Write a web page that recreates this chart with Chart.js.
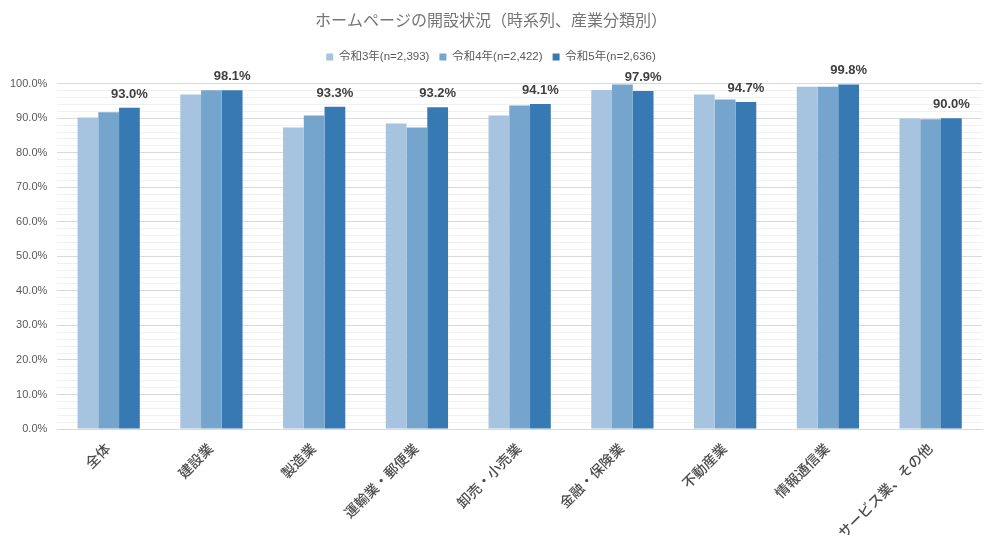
<!DOCTYPE html>
<html>
<head>
<meta charset="utf-8">
<script src="https://cdn.jsdelivr.net/npm/chart.js@4/dist/chart.umd.min.js"></script>
<style>
  html, body { margin: 0; padding: 0; background: #fff; }
  #wrap { width: 996px; height: 552px; }
</style>
</head>
<body>
<div id="wrap"><canvas id="chart" width="996" height="552"></canvas></div>
<script>
// categories and series (percent)
const categories = ['全体', '建設業', '製造業', '運輸業・郵便業', '卸売・小売業', '金融・保険業', '不動産業', '情報通信業', 'サービス業、その他'];
const seriesNames = ['令和3年(n=2,393)', '令和4年(n=2,422)', '令和5年(n=2,636)'];
const r3Values = [90.2, 96.9, 87.3, 88.5, 90.8, 98.2, 96.9, 99.1, 89.9];
const r4Values = [91.7, 98.1, 90.8, 87.3, 93.7, 99.8, 95.4, 99.1, 89.7];
const r5Values = [93.0, 98.1, 93.3, 93.2, 94.1, 97.9, 94.7, 99.8, 90.0];
const colors = ['#a6c4e0', '#75a5cd', '#377ab3'];

const FONT = '"Liberation Sans", "Noto Sans CJK JP", sans-serif';

// labels above the latest series only
const valueLabels = {
  id: 'valueLabels',
  afterDatasetsDraw(chart) {
    const ctx = chart.ctx;
    const meta = chart.getDatasetMeta(2);
    ctx.save();
    ctx.font = 'bold 13px ' + FONT;
    ctx.fillStyle = '#404040';
    ctx.textAlign = 'center';
    ctx.textBaseline = 'alphabetic';
    meta.data.forEach((bar, i) => {
      ctx.fillText(r5Values[i].toFixed(1) + '%', bar.x, bar.y - 10);
    });
    ctx.restore();
  }
};

// extra room under the legend
const legendGap = {
  id: 'legendGap',
  beforeInit(chart) {
    const fit = chart.legend.fit;
    chart.legend.fit = function () {
      fit.bind(chart.legend)();
      this.height += 11;
    };
  }
};

new Chart(document.getElementById('chart'), {
  type: 'bar',
  data: {
    labels: categories,
    datasets: [r3Values, r4Values, r5Values].map((vals, i) => ({
      label: seriesNames[i],
      data: vals,
      backgroundColor: colors[i],
      categoryPercentage: 0.606,
      barPercentage: 1.0
    }))
  },
  options: {
    responsive: false,
    animation: false,
    layout: { padding: { left: 0, right: 14, top: 6, bottom: 6 } },
    plugins: {
      title: {
        display: true,
        text: 'ホームページの開設状況（時系列、産業分類別）',
        color: '#757575',
        font: { family: FONT, size: 16, weight: 'normal' },
        padding: { top: 6, bottom: 10 }
      },
      legend: {
        position: 'top',
        labels: {
          color: '#595959',
          font: { family: FONT, size: 11.5 },
          boxWidth: 7,
          boxHeight: 7,
          padding: 10
        }
      },
      tooltip: { enabled: false }
    },
    scales: {
      x: {
        grid: { display: false },
        border: { display: true, color: '#d9d9d9' },
        ticks: {
          color: '#4d4d4d',
          font: { family: FONT, size: 14, weight: '500' },
          minRotation: 45,
          maxRotation: 45,
          autoSkip: false,
          padding: 4
        }
      },
      y: {
        min: 0,
        max: 100,
        border: { display: false },
        grid: {
          drawTicks: false,
          color: (c) => (c.tick && c.tick.value % 10 === 0) ? '#d9d9d9' : '#f0f0f0'
        },
        ticks: {
          stepSize: 2,
          autoSkip: false,
          padding: 10,
          color: '#595959',
          font: { family: FONT, size: 11 },
          callback: (v) => (v % 10 === 0) ? v.toFixed(1) + '%' : ''
        }
      }
    }
  },
  plugins: [valueLabels, legendGap]
});
</script>
</body>
</html>
